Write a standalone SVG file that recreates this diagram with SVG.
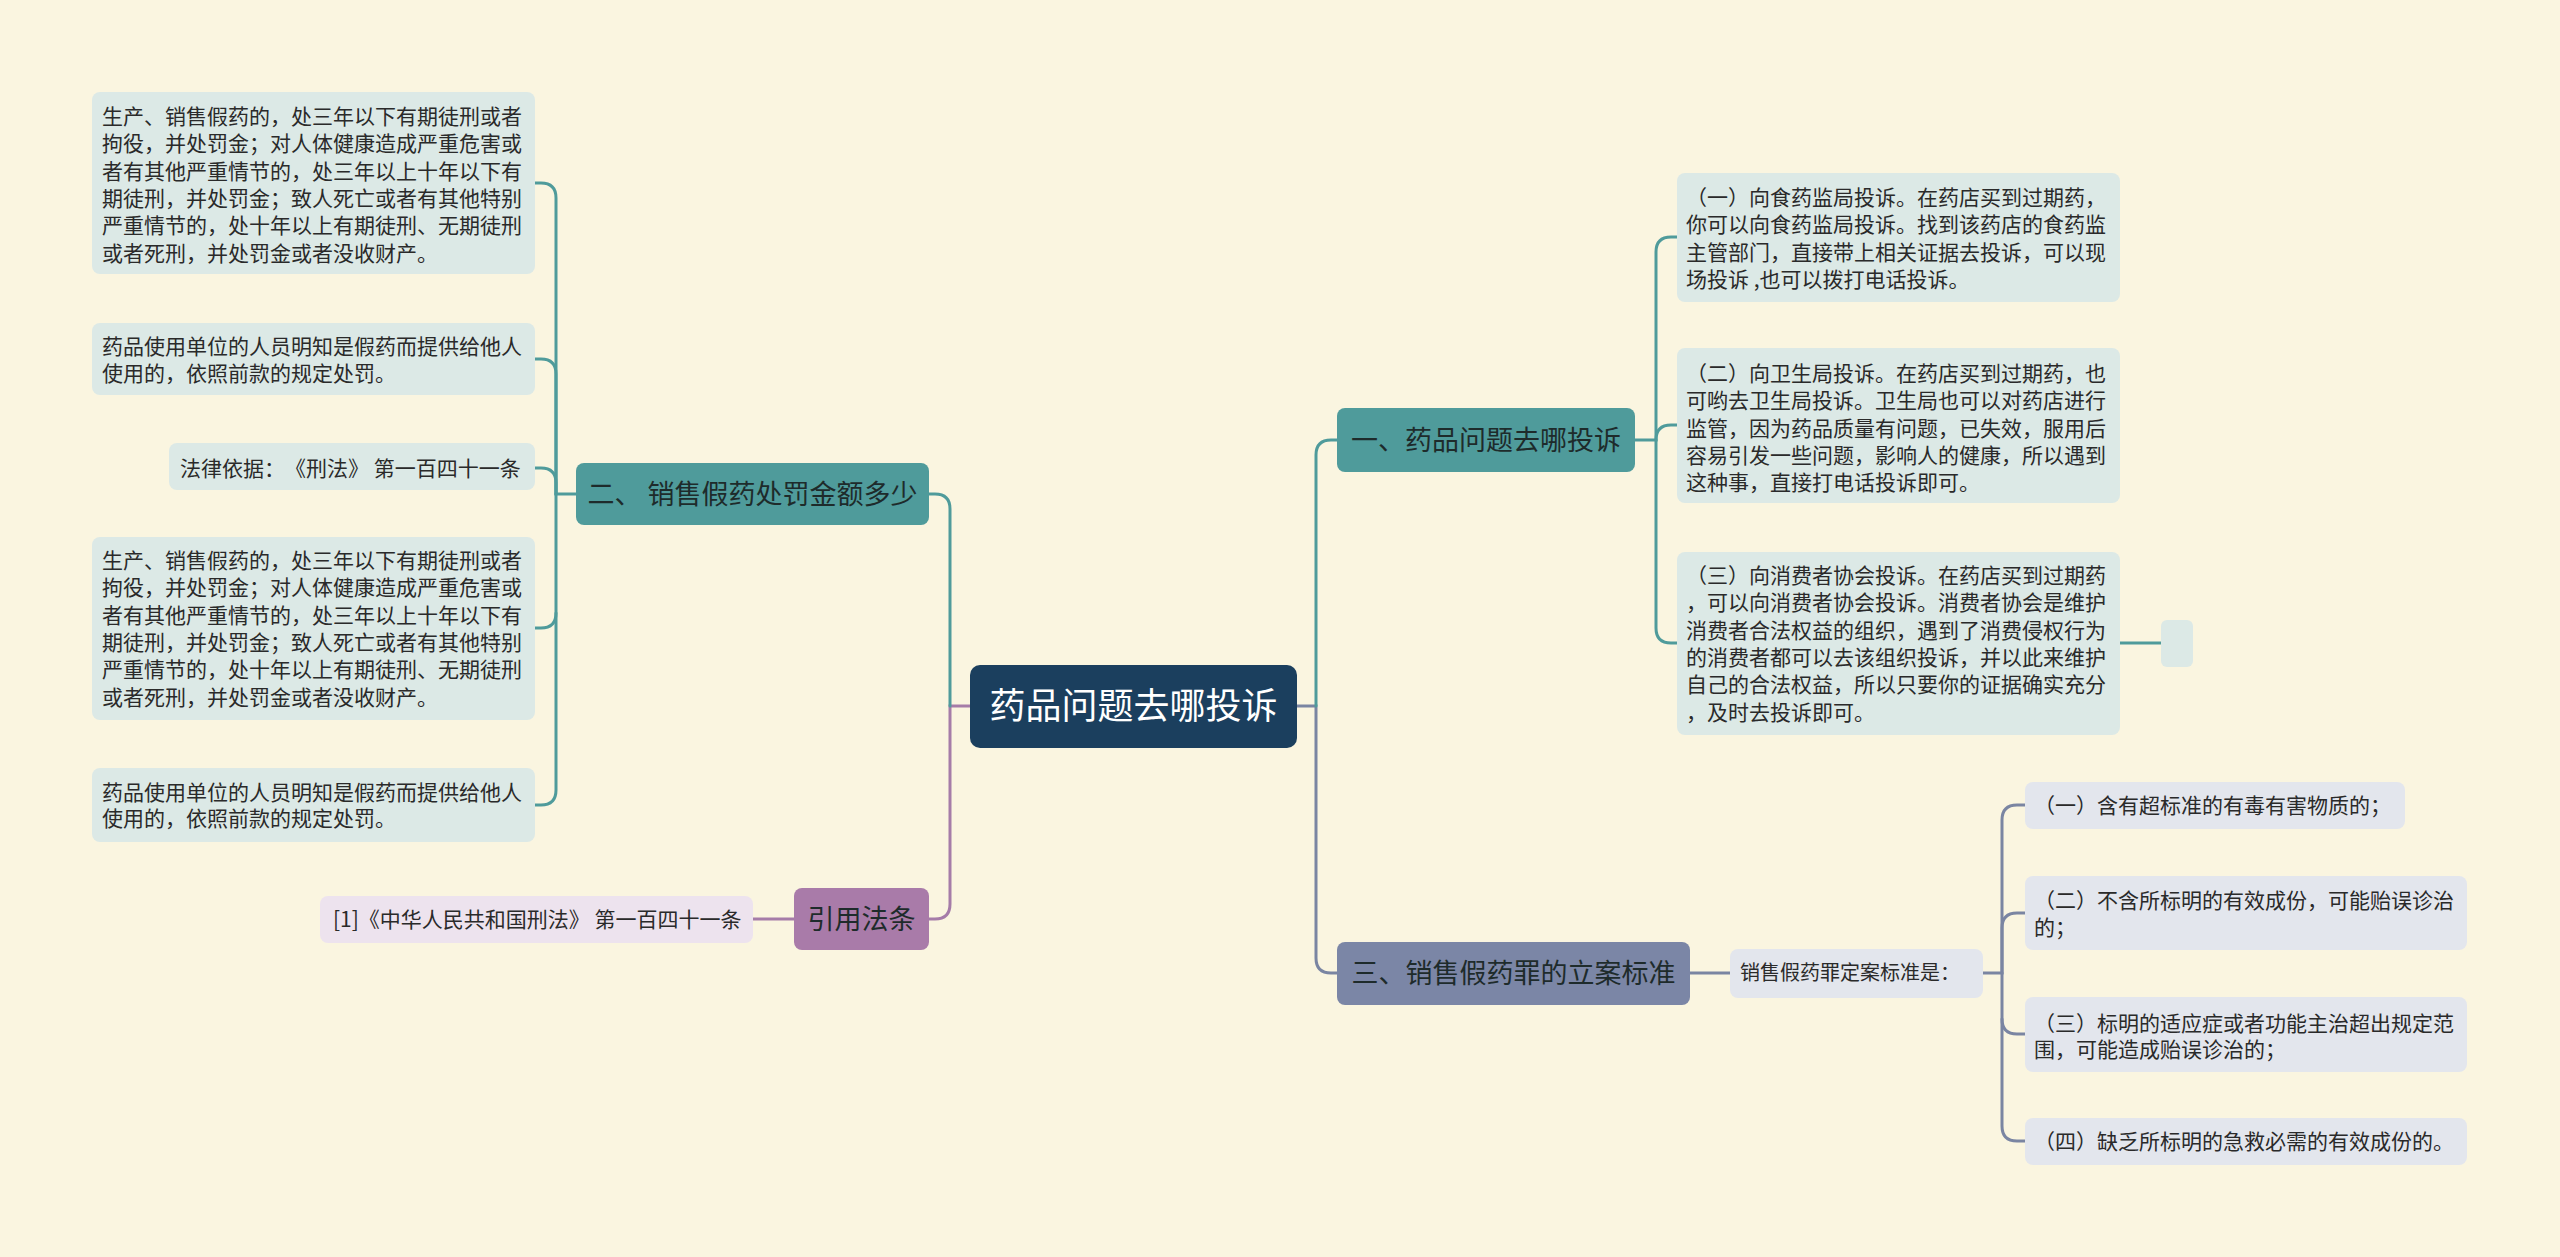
<svg xmlns="http://www.w3.org/2000/svg" width="2560" height="1257" viewBox="0 0 2560 1257">
<style>
text{font-family:"Noto Sans CJK SC","Liberation Sans",sans-serif;text-spacing-trim:space-all;}
.bg{fill:#faf5e0;}
.root{fill:#1b3f5e;}
.teal{fill:#4f9b9b;}
.slate{fill:#7b86a6;}
.purple{fill:#a97ba9;}
.lt{fill:#dce9e6;}
.ls{fill:#e3e6ed;}
.lp{fill:#ede3ee;}
.rt{font-size:36px;fill:#ffffff;text-anchor:middle;}
.br{font-size:27px;fill:#1e2b2b;text-anchor:middle;}
.tx{font-size:21px;fill:#2a2a2a;}
.tx20{font-size:20px;fill:#2a2a2a;}
.c{fill:none;stroke-width:3;stroke-linecap:round;}
.ct{stroke:#4f9b9b;}
.cs{stroke:#7a85a2;}
.cp{stroke:#a57ca8;}
</style>
<rect class="bg" x="0" y="0" width="2560" height="1257"/>
<g id="connectors">
<path class="c cs" d="M1297,706 H1316 V958 Q1316,973 1331,973 H1337"/>
<path class="c ct" d="M1316,706 V455 Q1316,440 1331,440 H1337"/>
<path class="c ct" d="M1635,440 H1656 V252 Q1656,237 1671,237 H1677"/>
<path class="c ct" d="M1656,440 Q1656,425 1671,425 H1677"/>
<path class="c ct" d="M1656,440 V628 Q1656,643 1671,643 H1677"/>
<path class="c ct" d="M2120,643 H2161"/>
<path class="c cp" d="M970,706 H950 V904 Q950,919 935,919 H929"/>
<path class="c ct" d="M950,706 V509 Q950,494 935,494 H929"/>
<path class="c ct" d="M576,494 H556 V198 Q556,183 541,183 H535"/>
<path class="c ct" d="M556,494 V374 Q556,359 541,359 H535"/>
<path class="c ct" d="M556,494 V483 Q556,468 541,468 H535"/>
<path class="c ct" d="M556,494 V613 Q556,628 541,628 H535"/>
<path class="c ct" d="M556,613 V790 Q556,805 541,805 H535"/>
<path class="c cp" d="M794,919 H753"/>
<path class="c cs" d="M1690,973 H1730"/>
<path class="c cs" d="M1983,973 H2002 V820 Q2002,805 2017,805 H2025"/>
<path class="c cs" d="M2002,973 V928 Q2002,913 2017,913 H2025"/>
<path class="c cs" d="M2002,973 V1019 Q2002,1034 2017,1034 H2025"/>
<path class="c cs" d="M2002,1019 V1126 Q2002,1141 2017,1141 H2025"/>
</g>
<g id="root">
<rect class="root" x="970" y="665" width="327" height="83" rx="10"/>
<text class="rt" x="1133.5" y="719">药品问题去哪投诉</text>
</g>
<g id="branch1">
<rect class="teal" x="1337" y="408" width="298" height="64" rx="8"/>
<text class="br" x="1486" y="450">一、药品问题去哪投诉</text>
</g>
<g id="b1c1">
<rect class="lt" x="1677" y="173" width="443" height="129" rx="8"/>
<text class="tx"><tspan x="1686" y="205">（一）向食药监局投诉。在药店买到过期药，</tspan><tspan x="1686" y="232.3">你可以向食药监局投诉。找到该药店的食药监</tspan><tspan x="1686" y="259.6">主管部门，直接带上相关证据去投诉，可以现</tspan><tspan x="1686" y="286.9">场投诉 ,也可以拨打电话投诉。</tspan></text>
</g>
<g id="b1c2">
<rect class="lt" x="1677" y="348" width="443" height="155" rx="8"/>
<text class="tx"><tspan x="1686" y="381">（二）向卫生局投诉。在药店买到过期药，也</tspan><tspan x="1686" y="408.3">可哟去卫生局投诉。卫生局也可以对药店进行</tspan><tspan x="1686" y="435.6">监管，因为药品质量有问题，已失效，服用后</tspan><tspan x="1686" y="462.9">容易引发一些问题，影响人的健康，所以遇到</tspan><tspan x="1686" y="490.2">这种事，直接打电话投诉即可。</tspan></text>
</g>
<g id="b1c3">
<rect class="lt" x="1677" y="552" width="443" height="183" rx="8"/>
<text class="tx"><tspan x="1686" y="583">（三）向消费者协会投诉。在药店买到过期药</tspan><tspan x="1686" y="610.3">，可以向消费者协会投诉。消费者协会是维护</tspan><tspan x="1686" y="637.6">消费者合法权益的组织，遇到了消费侵权行为</tspan><tspan x="1686" y="664.9">的消费者都可以去该组织投诉，并以此来维护</tspan><tspan x="1686" y="692.2">自己的合法权益，所以只要你的证据确实充分</tspan><tspan x="1686" y="719.5">，及时去投诉即可。</tspan></text>
</g>
<g id="b1c3e">
<rect class="lt" x="2161" y="620" width="32" height="47" rx="6"/>
</g>
<g id="branch2">
<rect class="teal" x="576" y="463" width="353" height="62" rx="8"/>
<text class="br" x="752.5" y="504">二、 销售假药处罚金额多少</text>
</g>
<g id="b2c1">
<rect class="lt" x="92" y="92" width="443" height="182" rx="8"/>
<text class="tx"><tspan x="102" y="124">生产、销售假药的，处三年以下有期徒刑或者</tspan><tspan x="102" y="151.3">拘役，并处罚金；对人体健康造成严重危害或</tspan><tspan x="102" y="178.6">者有其他严重情节的，处三年以上十年以下有</tspan><tspan x="102" y="205.9">期徒刑，并处罚金；致人死亡或者有其他特别</tspan><tspan x="102" y="233.2">严重情节的，处十年以上有期徒刑、无期徒刑</tspan><tspan x="102" y="260.5">或者死刑，并处罚金或者没收财产。</tspan></text>
</g>
<g id="b2c2">
<rect class="lt" x="92" y="323" width="443" height="72" rx="8"/>
<text class="tx"><tspan x="102" y="354">药品使用单位的人员明知是假药而提供给他人</tspan><tspan x="102" y="381">使用的，依照前款的规定处罚。</tspan></text>
</g>
<g id="b2c3">
<rect class="lt" x="169" y="443" width="366" height="47" rx="8"/>
<text class="tx" x="180" y="475.5">法律依据：《刑法》 第一百四十一条</text>
</g>
<g id="b2c4">
<rect class="lt" x="92" y="537" width="443" height="183" rx="8"/>
<text class="tx"><tspan x="102" y="568">生产、销售假药的，处三年以下有期徒刑或者</tspan><tspan x="102" y="595.3">拘役，并处罚金；对人体健康造成严重危害或</tspan><tspan x="102" y="622.6">者有其他严重情节的，处三年以上十年以下有</tspan><tspan x="102" y="649.9">期徒刑，并处罚金；致人死亡或者有其他特别</tspan><tspan x="102" y="677.2">严重情节的，处十年以上有期徒刑、无期徒刑</tspan><tspan x="102" y="704.5">或者死刑，并处罚金或者没收财产。</tspan></text>
</g>
<g id="b2c5">
<rect class="lt" x="92" y="768" width="443" height="74" rx="8"/>
<text class="tx"><tspan x="102" y="799.5">药品使用单位的人员明知是假药而提供给他人</tspan><tspan x="102" y="826">使用的，依照前款的规定处罚。</tspan></text>
</g>
<g id="branch4">
<rect class="purple" x="794" y="888" width="135" height="62" rx="8"/>
<text class="br" x="861.5" y="929">引用法条</text>
</g>
<g id="b4c1">
<rect class="lp" x="320" y="896" width="433" height="47" rx="8"/>
<text class="tx" x="333" y="926.5">[1]《中华人民共和国刑法》 第一百四十一条</text>
</g>
<g id="branch3">
<rect class="slate" x="1337" y="942" width="353" height="63" rx="8"/>
<text class="br" x="1513.5" y="983">三、销售假药罪的立案标准</text>
</g>
<g id="b3c0">
<rect class="ls" x="1730" y="949" width="253" height="49" rx="8"/>
<text class="tx20" x="1740" y="980">销售假药罪定案标准是：</text>
</g>
<g id="b3c1">
<rect class="ls" x="2025" y="782" width="380" height="47" rx="8"/>
<text class="tx" x="2034" y="812.5">（一）含有超标准的有毒有害物质的；</text>
</g>
<g id="b3c2">
<rect class="ls" x="2025" y="876" width="442" height="74" rx="8"/>
<text class="tx"><tspan x="2034" y="907.5">（二）不含所标明的有效成份，可能贻误诊治</tspan><tspan x="2034" y="934.5">的；</tspan></text>
</g>
<g id="b3c3">
<rect class="ls" x="2025" y="997" width="442" height="75" rx="8"/>
<text class="tx"><tspan x="2034" y="1030.5">（三）标明的适应症或者功能主治超出规定范</tspan><tspan x="2034" y="1057">围，可能造成贻误诊治的；</tspan></text>
</g>
<g id="b3c4">
<rect class="ls" x="2025" y="1118" width="442" height="47" rx="8"/>
<text class="tx" x="2034" y="1148.5">（四）缺乏所标明的急救必需的有效成份的。</text>
</g>
</svg>
